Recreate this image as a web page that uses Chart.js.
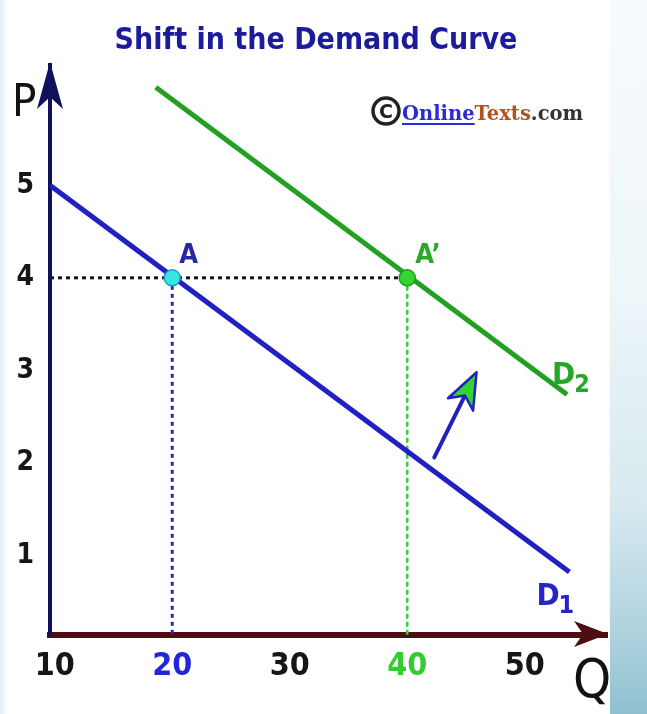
<!DOCTYPE html>
<html lang="en">
<head>
    <meta charset="UTF-8">
    <title>Shift in the Demand Curve</title>
    <script src="https://cdn.jsdelivr.net/npm/chart.js"></script>
    <style>
        html, body {
            margin: 0;
            padding: 0;
        }
        body {
            width: 647px;
            height: 714px;
            overflow: hidden;
            background: linear-gradient(to right, #dfeef4 0, #f3f9fb 5px, #ffffff 8px, #ffffff 609px, #e4f0f5 611px, #d6e9f0 100%);
            position: relative;
        }
        #rightStrip {
            position: absolute;
            left: 610px;
            top: 0;
            width: 37px;
            height: 714px;
            background: linear-gradient(to bottom, #f7fbfd 0%, #eef6f9 40%, #d8eaf0 70%, #b0d3df 88%, #8ec0d0 100%);
        }
        #chartBox {
            position: absolute;
            left: 0;
            top: 0;
        }
    </style>
</head>
<body>
    <div id="rightStrip"></div>
    <div id="chartBox">
        <canvas id="demandCanvas" width="647" height="714"></canvas>
    </div>

    <script>
        // values (Q = quantity, P = price)
        const d1Q = [9.6, 53.8];
        const d1P = [5.0, 0.82];
        const d2Q = [18.6, 53.6];
        const d2P = [6.06, 2.74];

        const eqQ = [20, 40];
        const eqP = [4, 4];
        const eqNames = ['A', 'A\u2019'];

        const shiftQ = [42.3, 45.9];
        const shiftP = [2.06, 2.98];

        const qTicks = [10, 20, 30, 40, 50];
        const qTickColors = ['#161616', '#2424d8', '#161616', '#33cc33', '#161616'];
        const pTicks = [1, 2, 3, 4, 5];

        const qMin = 9.6, qMax = 57;
        const pMin = 0.14, pMax = 6.3;

        const narrow = "'Liberation Sans Narrow', 'DejaVu Sans Condensed', sans-serif";

        function pts(xs, ys) {
            return xs.map((x, i) => ({ x: x, y: ys[i] }));
        }

        // text and arrows on top of the plot
        const annotate = {
            id: 'annotate',
            afterDraw(chart) {
                const c = chart.ctx;
                const xs = chart.scales.x, ys = chart.scales.y;
                const area = chart.chartArea;
                c.save();

                // y axis arrow head
                c.fillStyle = '#10105c';
                c.beginPath();
                c.moveTo(area.left, area.top - 3);
                c.lineTo(area.left - 13, area.top + 44);
                c.lineTo(area.left, area.top + 32);
                c.lineTo(area.left + 13, area.top + 44);
                c.closePath();
                c.fill();

                // x axis arrow head
                c.fillStyle = '#4c0e12';
                const ay = area.bottom - 1;
                c.beginPath();
                c.moveTo(area.right + 1, ay);
                c.lineTo(area.right - 33, ay - 13);
                c.lineTo(area.right - 24, ay);
                c.lineTo(area.right - 33, ay + 13);
                c.closePath();
                c.fill();

                // shift arrow D1 -> D2
                const x0 = xs.getPixelForValue(shiftQ[0]), y0 = ys.getPixelForValue(shiftP[0]);
                const x1 = xs.getPixelForValue(shiftQ[1]), y1 = ys.getPixelForValue(shiftP[1]);
                const ang = Math.atan2(y1 - y0, x1 - x0);
                const headLen = 36, headHalf = 14;
                const bx = x1 - Math.cos(ang) * headLen, by = y1 - Math.sin(ang) * headLen;
                c.strokeStyle = '#2222b8';
                c.lineWidth = 4;
                c.lineCap = 'round';
                c.beginPath();
                c.moveTo(x0, y0);
                c.lineTo(x1 - Math.cos(ang) * 24, y1 - Math.sin(ang) * 24);
                c.stroke();
                c.beginPath();
                c.moveTo(x1, y1);
                c.lineTo(bx - Math.sin(ang) * headHalf, by + Math.cos(ang) * headHalf);
                c.lineTo(x1 - Math.cos(ang) * 26, y1 - Math.sin(ang) * 26);
                c.lineTo(bx + Math.sin(ang) * headHalf, by - Math.cos(ang) * headHalf);
                c.closePath();
                c.fillStyle = '#33d233';
                c.fill();
                c.lineWidth = 2.5;
                c.lineJoin = 'round';
                c.stroke();

                // point labels
                c.textBaseline = 'alphabetic';
                c.textAlign = 'left';
                c.font = 'bold 27px ' + narrow;
                c.fillStyle = '#2626a6';
                c.fillText(eqNames[0], xs.getPixelForValue(eqQ[0]) + 7, ys.getPixelForValue(eqP[0]) - 15);
                c.fillStyle = '#2aa82a';
                c.fillText(eqNames[1], xs.getPixelForValue(eqQ[1]) + 8, ys.getPixelForValue(eqP[1]) - 15);

                // curve labels
                const dLabel = (txt, sub, x, y, col) => {
                    c.fillStyle = col;
                    c.font = 'bold 31px ' + narrow;
                    c.fillText(txt, x, y);
                    const w = c.measureText(txt).width;
                    c.font = 'bold 25px ' + narrow;
                    c.fillText(sub, x + w - 1, y + 8);
                };
                dLabel('D', '2', xs.getPixelForValue(d2Q[1]) - 15, ys.getPixelForValue(d2P[1]) - 10, '#26a626');
                dLabel('D', '1', xs.getPixelForValue(d1Q[1]) - 33, ys.getPixelForValue(d1P[1]) + 33, '#2424c8');

                // axis names
                c.fillStyle = '#121212';
                c.font = '500 45px ' + narrow;
                c.fillText('P', 12, 116);
                c.font = '54px ' + narrow;
                c.fillText('Q', 573, 697);

                // title
                c.textAlign = 'center';
                c.textBaseline = 'middle';
                c.font = "bold 30px 'DejaVu Sans Condensed', 'DejaVu Sans', sans-serif";
                c.fillStyle = '#1b1b9c';
                c.fillText('Shift in the Demand Curve', 316, 41);

                // watermark
                c.strokeStyle = '#222';
                c.lineWidth = 3.5;
                c.beginPath();
                c.arc(386, 111, 13, 0, Math.PI * 2);
                c.stroke();
                c.fillStyle = '#222';
                c.font = "bold 19px 'DejaVu Sans', sans-serif";
                c.textBaseline = 'alphabetic';
                c.fillText('C', 386, 118);
                c.textAlign = 'left';
                c.font = "bold 19.5px 'DejaVu Serif', serif";
                let tx = 402;
                const parts = [['Online', '#2a2ad6'], ['Texts', '#b4521f'], ['.com', '#333333']];
                parts.forEach(([s, col], i) => {
                    c.fillStyle = col;
                    c.fillText(s, tx, 120);
                    const w = c.measureText(s).width;
                    if (i === 0) {
                        c.fillRect(tx, 123, w, 2);
                    }
                    tx += w;
                });

                c.restore();
            }
        };

        new Chart(document.getElementById('demandCanvas'), {
            type: 'scatter',
            data: {
                datasets: [
                    {
                        label: 'A / A\u2019',
                        data: pts(eqQ, eqP),
                        pointRadius: 8,
                        pointBackgroundColor: ['#38e6e0', '#33d633'],
                        pointBorderColor: ['#1f9cc8', '#1f9a1f'],
                        pointBorderWidth: 1.5,
                        showLine: false,
                        order: 0
                    },
                    {
                        label: 'D1',
                        data: pts(d1Q, d1P),
                        showLine: true,
                        borderColor: '#2020c4',
                        borderWidth: 5,
                        pointRadius: 0,
                        order: 1
                    },
                    {
                        label: 'D2',
                        data: pts(d2Q, d2P),
                        showLine: true,
                        borderColor: '#22a022',
                        borderWidth: 5,
                        pointRadius: 0,
                        order: 1
                    },
                    {
                        label: 'P guide',
                        data: pts([qMin, eqQ[1]], [eqP[0], eqP[1]]),
                        showLine: true,
                        borderColor: '#151515',
                        borderWidth: 3,
                        borderDash: [4, 4],
                        pointRadius: 0,
                        order: 2
                    },
                    {
                        label: 'Q1 guide',
                        data: pts([eqQ[0], eqQ[0]], [eqP[0], pMin]),
                        showLine: true,
                        borderColor: '#2a2ad2',
                        borderWidth: 3,
                        borderDash: [4, 4],
                        pointRadius: 0,
                        order: 2
                    },
                    {
                        label: 'Q2 guide',
                        data: pts([eqQ[1], eqQ[1]], [eqP[1], pMin]),
                        showLine: true,
                        borderColor: '#3acc3a',
                        borderWidth: 2.5,
                        borderDash: [5, 3],
                        pointRadius: 0,
                        order: 2
                    }
                ]
            },
            options: {
                responsive: false,
                animation: false,
                events: [],
                layout: {
                    padding: { top: 65, right: 40, left: 0, bottom: 0 }
                },
                plugins: {
                    legend: { display: false },
                    tooltip: { enabled: false }
                },
                scales: {
                    x: {
                        type: 'linear',
                        min: qMin,
                        max: qMax,
                        afterBuildTicks: s => { s.ticks = qTicks.map(v => ({ value: v })); },
                        afterFit: s => { s.height = 79; },
                        grid: { display: false },
                        border: { color: '#4c0e12', width: 6 },
                        ticks: {
                            autoSkip: false,
                            maxRotation: 0,
                            padding: 4,
                            color: ctx => qTickColors[ctx.index],
                            font: { family: narrow, size: 32, weight: 'bold' }
                        }
                    },
                    y: {
                        type: 'linear',
                        min: pMin,
                        max: pMax,
                        afterBuildTicks: s => { s.ticks = pTicks.map(v => ({ value: v })); },
                        afterFit: s => { s.width = 50; },
                        grid: { display: false },
                        border: { color: '#10105c', width: 4 },
                        ticks: {
                            padding: 8,
                            color: '#161616',
                            font: { family: narrow, size: 28, weight: 'bold' }
                        }
                    }
                }
            },
            plugins: [annotate]
        });
    </script>
</body>
</html>
